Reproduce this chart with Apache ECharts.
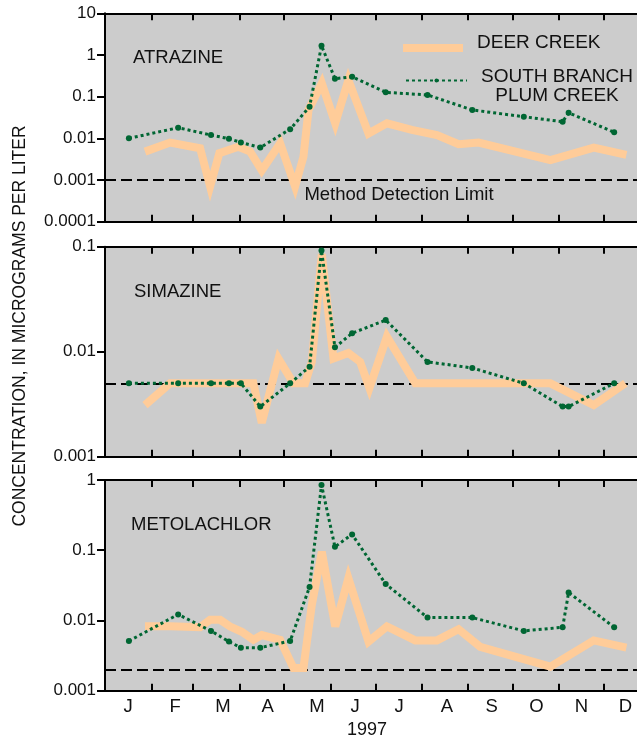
<!DOCTYPE html>
<html><head><meta charset="utf-8">
<script src="https://cdn.jsdelivr.net/npm/echarts@6/dist/echarts.min.js"></script>
<style>html,body{margin:0;padding:0;background:#fff}#c{width:637px;height:740px}</style>
</head><body><div id="c"></div>
<script>
// ---- axis / tick data ----
const monthLetters = ['J','F','M','A','M','J','J','A','S','O','N','D'];
const monthStartDays = [0,31,59,90,120,151,181,212,243,273,304,334,365];
const monthLabelDays = [15.5,47,79,109,142,167.5,197,229,259,289,319,348.5];
const panelNames = ['ATRAZINE','SIMAZINE','METOLACHLOR'];
const yMins = [0.0001, 0.001, 0.001];
const yMaxs = [10, 0.1, 1];
const detectionLimits = [0.001, 0.005, 0.002];

// ---- series data (day of year 1997, micrograms per liter) ----
const atrazineDeerDays = [26.8,43.6,63.7,70.4,76.6,89.4,97.2,105,117.3,127.3,132.9,136.3,145.2,154.2,163,176.5,188.8,205.5,222.3,236.8,250.2,298.3,327.3,349.2];
const atrazineDeerVals = [0.0048,0.0079,0.0058,0.0007,0.0044,0.0063,0.0048,0.0017,0.0076,0.0007,0.0036,0.048,0.21,0.023,0.25,0.013,0.023,0.016,0.012,0.0072,0.0079,0.003,0.006,0.004];
const simazineDeerDays = [26.8,43.6,99.4,105,116.2,126.2,134,138.5,145.2,153,163,170.9,177.1,188.8,207.8,298.3,327.3,348.5];
const simazineDeerVals = [0.0031,0.005,0.005,0.0021,0.0086,0.005,0.005,0.008,0.085,0.0086,0.0097,0.008,0.0045,0.0139,0.005,0.005,0.0031,0.005];
const metolachlorDeerDays = [26.8,43.6,63.7,70.4,77.1,83.8,91.6,99.4,105,117.3,126.2,132.9,138.5,145.2,154.2,163,176.5,188.8,207.8,222.3,236.8,251.3,298.3,327.3,349.2];
const metolachlorDeerVals = [0.0083,0.0083,0.008,0.0102,0.0102,0.0082,0.0069,0.0053,0.0062,0.0053,0.0021,0.0021,0.0166,0.095,0.0082,0.04,0.005,0.0082,0.0052,0.0052,0.0075,0.0042,0.0022,0.0052,0.0041];
const plumDays = [16,49,71,83,91,104,124,137,145,154,165.5,188,216,246,280.5,306.5,310.5,341];
const atrazinePlumVals = [0.01,0.018,0.012,0.0098,0.008,0.006,0.0166,0.057,1.67,0.27,0.30,0.127,0.11,0.048,0.033,0.025,0.041,0.014];
const simazinePlumVals = [0.005,0.005,0.005,0.005,0.005,0.003,0.005,0.0072,0.092,0.011,0.015,0.02,0.008,0.007,0.005,0.003,0.003,0.005];
const metolachlorPlumVals = [0.0051,0.0122,0.0071,0.005,0.0041,0.0041,0.0051,0.03,0.85,0.112,0.168,0.033,0.011,0.011,0.0071,0.008,0.025,0.008];

const deerDays = [atrazineDeerDays, simazineDeerDays, metolachlorDeerDays];
const deerVals = [atrazineDeerVals, simazineDeerVals, metolachlorDeerVals];
const plumVals = [atrazinePlumVals, simazinePlumVals, metolachlorPlumVals];

const FONT = '"Liberation Sans", Arial, Helvetica, sans-serif';
const ORANGE = '#ffcc99';
const GREEN = '#006633';
const DEER = 'DEER CREEK';
const PLUM = 'SOUTH BRANCH PLUM CREEK';

const gridTops = [13.3, 246.7, 480];
const gridHeights = [208.4, 210, 210.7];

const zip = (xs, ys) => xs.map((x, i) => [x, ys[i]]);
const logLabel = v => {
  const e = Math.round(Math.log10(v));
  return e >= 0 ? String(Math.pow(10, e)) : '0.' + '0'.repeat(-e - 1) + '1';
};
const monthLabel = v => {
  const i = monthLabelDays.findIndex(m => Math.abs(m - v) < 0.01);
  return i >= 0 ? monthLetters[i] : '';
};

const grid = [], xAxis = [], yAxis = [], series = [];
for (let p = 0; p < 3; p++) {
  grid.push({left: 105, top: gridTops[p], width: 545, height: gridHeights[p],
    show: true, backgroundColor: '#cccccc', borderWidth: 0,
    containLabel: false, outerBoundsMode: 'none'});
  ['bottom', 'top'].forEach(pos => {
    const showLabels = (p === 2 && pos === 'bottom');
    xAxis.push({
      type: 'value', gridIndex: p, position: pos, min: 0, max: 365,
      interval: showLabels ? 0.5 : 365,
      axisLine: {show: true, onZero: false, lineStyle: {color: '#000', width: 2}},
      axisTick: {show: true, inside: true, length: 7, customValues: monthStartDays,
        lineStyle: {color: '#000', width: 2}},
      axisLabel: {show: showLabels, margin: 7, showMinLabel: false, showMaxLabel: false,
        fontSize: 18.5, fontFamily: FONT, color: '#111', formatter: monthLabel},
      splitLine: {show: false}
    });
  });
  yAxis.push({
    type: 'log', logBase: 10, gridIndex: p, min: yMins[p], max: yMaxs[p],
    axisLine: {show: true, onZero: false, lineStyle: {color: '#000', width: 2}},
    axisTick: {show: true, inside: false, length: 8, lineStyle: {color: '#000', width: 2}},
    minorTick: {show: false},
    axisLabel: {fontSize: 17, fontFamily: FONT, color: '#111', margin: 9, formatter: logLabel},
    splitLine: {show: false}
  });
  series.push({
    name: DEER, type: 'line', xAxisIndex: p * 2, yAxisIndex: p, z: 2,
    data: zip(deerDays[p], deerVals[p]), symbol: 'none', showSymbol: false,
    lineStyle: {color: ORANGE, width: 8, join: 'miter', miterLimit: 4, cap: 'butt'},
    itemStyle: {color: ORANGE},
    markLine: {silent: true, z: 1, precision: 6, symbol: ['none', 'none'], label: {show: false},
      lineStyle: {color: '#000', width: 2, type: [11, 5]},
      data: [{yAxis: detectionLimits[p]}]}
  });
  series.push({
    name: PLUM, type: 'line', xAxisIndex: p * 2, yAxisIndex: p, z: 3,
    data: zip(plumDays, plumVals[p]), symbol: 'circle', symbolSize: 6, showSymbol: true,
    lineStyle: {color: GREEN, width: 3, type: [3, 3]},
    itemStyle: {color: GREEN, borderWidth: 0}
  });
}

const txt = (text, x, y, size, align, rot) => ({
  type: 'text', x: x, y: y, rotation: rot || 0, silent: true,
  style: {text: text, fill: '#111', font: size + 'px ' + FONT,
    textAlign: align || 'left', textVerticalAlign: 'middle'}
});

const legendRich = {
  a: {fontSize: 19, lineHeight: 19, fontFamily: FONT, color: '#111', align: 'center'},
  s: {fontSize: 4, lineHeight: 10},
  t: {fontSize: 4, lineHeight: 11}
};

const chart = echarts.init(document.getElementById('c'), null, {renderer: 'canvas'});
chart.setOption({
  animation: false,
  backgroundColor: '#fff',
  grid, xAxis, yAxis, series,
  legend: [
    {data: [{name: DEER, icon: 'rect'}], left: 403, top: 33.5, padding: 0, itemWidth: 60, itemHeight: 8,
      selectedMode: false,
      formatter: n => '{a|' + n + '}\n{s| }',
      textStyle: {padding: [0, 0, 0, 9], rich: legendRich}},
    {data: [PLUM], left: 405, top: 59.5, padding: 0, itemWidth: 61, itemHeight: 5,
      selectedMode: false,
      formatter: () => '{t| }\n{a|SOUTH BRANCH}\n{a|PLUM CREEK}',
      textStyle: {padding: [0, 0, 0, 9], rich: legendRich}}
  ],
  graphic: [
    txt(panelNames[0], 133, 58, 18.5),
    txt(panelNames[1], 134, 292, 18.5),
    txt(panelNames[2], 131, 525, 18.5),
    txt('Method Detection Limit', 399, 195, 18.5, 'center'),
    txt('1997', 367, 730, 18, 'center'),
    txt('CONCENTRATION, IN MICROGRAMS PER LITER', 20, 326, 17.5, 'center', Math.PI / 2)
  ]
});
</script></body></html>
